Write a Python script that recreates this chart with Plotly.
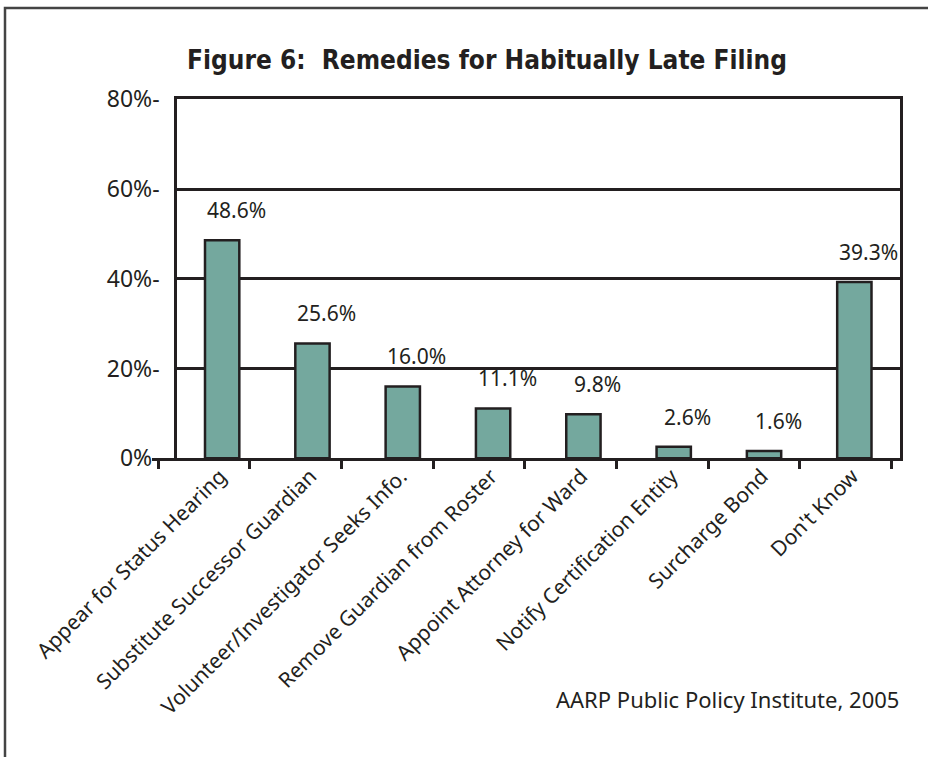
import plotly.graph_objects as go

categories = ["Appear for Status Hearing", "Substitute Successor Guardian",
              "Volunteer/Investigator Seeks Info.", "Remove Guardian from Roster",
              "Appoint Attorney for Ward", "Notify Certification Entity",
              "Surcharge Bond", "Don't Know"]
values = [48.6, 25.6, 16.0, 11.1, 9.8, 2.6, 1.6, 39.3]
value_labels = ["48.6%", "25.6%", "16.0%", "11.1%", "9.8%", "2.6%", "1.6%", "39.3%"]
y_tick_vals = [0, 20, 40, 60, 80]
y_tick_text = ["0%-", "20%-", "40%-", "60%-", "80%-"]

W, H = 928, 757
ML, MR, MT, MB = 5, 20, 8, 0
PW = W - ML - MR
PH = H - MT - MB


def px_x(p):
    return (p - ML) / PW


def px_y(p):
    return (H - MB - p) / PH


INK = "#231f20"
FILL = "#74a89e"
FONT = "Noto Sans"

idx = list(range(len(categories)))

fig = go.Figure()
fig.add_trace(go.Bar(x=idx, y=values, width=0.38,
                     marker=dict(color=FILL, line=dict(color=INK, width=2.5)),
                     hoverinfo="skip"))
# empty traces so the helper axes (tick marks, category labels) get drawn
fig.add_trace(go.Scatter(x=[], y=[], xaxis="x2", yaxis="y2", showlegend=False))
fig.add_trace(go.Scatter(x=[], y=[], xaxis="x3", yaxis="y", showlegend=False))

for i, (v, t) in enumerate(zip(values, value_labels)):
    fig.add_annotation(x=i, y=v, text=t, showarrow=False, xshift=14, yshift=30,
                       font=dict(family=FONT, size=21, color=INK))

fig.add_annotation(xref="paper", yref="paper", x=px_x(901), y=px_y(699),
                   xanchor="right", yanchor="middle", showarrow=False,
                   text="AARP Public Policy Institute, 2005",
                   font=dict(family=FONT, size=22, color=INK))

# outer frame
fig.add_shape(type="rect", xref="paper", yref="paper",
              x0=px_x(5), x1=px_x(960), y0=px_y(790), y1=px_y(8),
              line=dict(color="#444444", width=2.5), layer="below")

fig.update_layout(
    width=W, height=H, template="none",
    margin=dict(l=ML, r=MR, t=MT, b=MB, autoexpand=False),
    paper_bgcolor="white", plot_bgcolor="rgba(0,0,0,0)",
    showlegend=False,
    title=dict(text="<b>Figure 6:  Remedies for Habitually Late Filing</b>",
               x=px_x(487), xanchor="center", y=1 - 60 / H, yanchor="middle",
               yref="container", xref="paper",
               font=dict(family="DejaVu Sans Condensed", size=26, color=INK)),
    xaxis=dict(domain=[px_x(177), px_x(899.5)], range=[-0.5, 7.5],
               tickvals=idx, showticklabels=False, ticks="",
               showline=True, mirror=True, linecolor=INK, linewidth=2.5,
               showgrid=False, zeroline=False, automargin=False),
    xaxis3=dict(overlaying="x", anchor="free", position=px_y(459), side="bottom",
                range=[-0.5, 7.5], tickvals=idx, ticktext=categories,
                tickangle=-45, ticks="", ticklabelshift=-2,
                tickfont=dict(family=FONT, size=21, color=INK),
                showline=False, showgrid=False, zeroline=False, automargin=False),
    xaxis2=dict(domain=[px_x(151.5), px_x(899.5)], anchor="y2",
                range=[(151.5 - 158.3) / 91.67, (899.5 - 158.3) / 91.67],
                tickvals=list(range(9)), ticks="outside", ticklen=8, tickwidth=2.5,
                tickcolor=INK, showticklabels=False, showline=True,
                linecolor=INK, linewidth=2.5, showgrid=False, zeroline=False,
                automargin=False),
    yaxis=dict(domain=[px_y(458.3), px_y(99.3)], range=[0, 80],
               tickvals=y_tick_vals, ticktext=y_tick_text, ticks="",
               ticklabelstandoff=10,
               tickfont=dict(family=FONT, size=23, color=INK),
               showline=True, mirror=True, linecolor=INK, linewidth=2.5,
               showgrid=True, gridcolor=INK, gridwidth=2.5, zeroline=False,
               automargin=False),
    yaxis2=dict(domain=[px_y(458.3), px_y(99.3)], anchor="x2", range=[0, 80],
                showgrid=False, showline=False, showticklabels=False,
                zeroline=False, ticks="", automargin=False),
)

fig.write_html("out.html", config={"displayModeBar": False},
               post_script="document.body.style.margin='0';document.body.style.overflow='hidden';")
